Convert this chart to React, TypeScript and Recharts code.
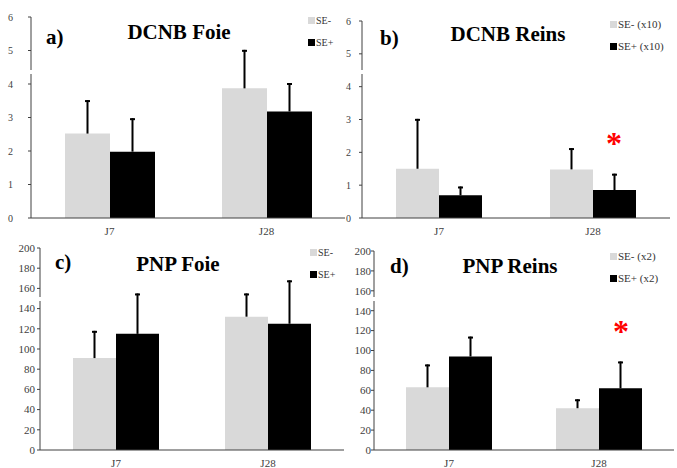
import React from "react"
import { BarChart, Bar, XAxis, YAxis } from "recharts"

const categories = ["J7", "J28"]

// a) DCNB Foie
const dcnbFoieMinus = [2.52, 3.87]
const dcnbFoieMinusErr = [1.0, 1.15]
const dcnbFoiePlus = [1.98, 3.18]
const dcnbFoiePlusErr = [1.0, 0.85]

// b) DCNB Reins (x10)
const dcnbReinsMinus = [1.5, 1.48]
const dcnbReinsMinusErr = [1.52, 0.65]
const dcnbReinsPlus = [0.69, 0.85]
const dcnbReinsPlusErr = [0.27, 0.5]

// c) PNP Foie
const pnpFoieMinus = [91, 132]
const pnpFoieMinusErr = [27, 23]
const pnpFoiePlus = [115, 125]
const pnpFoiePlusErr = [40, 43]

// d) PNP Reins (x2)
const pnpReinsMinus = [63, 42]
const pnpReinsMinusErr = [23, 9]
const pnpReinsPlus = [94, 62]
const pnpReinsPlusErr = [20, 27]

const dcnbTicks = [0, 1, 2, 3, 4, 5, 6]
const pnpTicks = [0, 20, 40, 60, 80, 100, 120, 140, 160, 180, 200]

const FONT = "Liberation Serif, Times New Roman, serif"
const GREY = "#d9d9d9"

function buildRows(minus: number[], minusErr: number[], plus: number[], plusErr: number[]) {
  return categories.map((cat, i) => ({
    cat,
    minus: minus[i],
    plus: plus[i],
    // upward-only error range, drawn as a thin line with a top cap
    minusRange: [minus[i], minus[i] + minusErr[i]],
    plusRange: [plus[i], plus[i] + plusErr[i]],
  }))
}

// error whisker: vertical line from bar top up to the error value, cap only on top
const Whisker = (props: any) => {
  const { x, y, width, height } = props
  if (x == null || y == null) return null
  const cx = x + width / 2
  return (
    <g>
      <line x1={cx} x2={cx} y1={y} y2={y + height} stroke="#000" strokeWidth={2} />
      <line x1={cx - 2.5} x2={cx + 2.5} y1={y + 1} y2={y + 1} stroke="#000" strokeWidth={2} />
    </g>
  )
}

const makeYTick = (size: number) => (props: any) => {
  const { x, y, payload } = props
  return (
    <text x={x} y={y} dy="0.35em" textAnchor="end" fill="#404040" style={{ fontFamily: FONT, fontSize: size }}>
      {payload.value}
    </text>
  )
}

const XTick = (props: any) => {
  const { x, y, payload } = props
  return (
    <text x={x} y={y} dy="0.85em" textAnchor="middle" fill="#404040" style={{ fontFamily: FONT, fontSize: 11 }}>
      {payload.value}
    </text>
  )
}

type PanelProps = {
  left: number
  top: number
  width: number
  height: number
  margin: { top: number; right: number; bottom: number; left: number }
  xHeight: number
  yWidth: number
  tickMargin: number
  tickFont: number
  ticks: number[]
  barSize: number
  rows: any[]
  names: [string, string]
  legendPos: { left: number; top: number }
  legendFont: number
  title: string
  titlePos: { x: number; y: number }
  letter: string
  letterPos: { x: number; y: number }
  star?: { x: number; y: number }
  breakPos: { x: number; y: number }
}

function Panel(p: PanelProps) {
  const domain = [p.ticks[0], p.ticks[p.ticks.length - 1]]
  return (
    <div style={{ position: "absolute", left: p.left, top: p.top, width: p.width, height: p.height, fontFamily: FONT }}>
      <BarChart width={p.width} height={p.height} data={p.rows} margin={p.margin} barGap={0} barSize={p.barSize}>
        <XAxis dataKey="cat" tickLine={false} axisLine={{ stroke: "#404040" }} height={p.xHeight} tick={XTick} />
        <XAxis dataKey="cat" xAxisId="err" hide />
        <YAxis
          width={p.yWidth}
          domain={domain}
          ticks={p.ticks}
          interval={0}
          tickSize={3}
          tickMargin={p.tickMargin}
          axisLine={{ stroke: "#404040" }}
          tickLine={{ stroke: "#404040" }}
          tick={makeYTick(p.tickFont)}
        />
        <Bar dataKey="minus" name={p.names[0]} fill={GREY} isAnimationActive={false} />
        <Bar dataKey="plus" name={p.names[1]} fill="#000" isAnimationActive={false} />
        <Bar dataKey="minusRange" xAxisId="err" shape={Whisker} isAnimationActive={false} />
        <Bar dataKey="plusRange" xAxisId="err" shape={Whisker} isAnimationActive={false} />
      </BarChart>
      <div
        style={{
          position: "absolute",
          left: p.breakPos.x - p.left - 3,
          top: p.breakPos.y - p.top - 2,
          width: 6,
          height: 4,
          background: "#fff",
        }}
      />
      <div
        style={{
          position: "absolute",
          left: p.legendPos.left - p.left,
          top: p.legendPos.top - p.top,
          fontSize: p.legendFont,
          color: "#333",
        }}
      >
        {[
          { name: p.names[0], color: GREY },
          { name: p.names[1], color: "#000" },
        ].map((it) => (
          <div key={it.name} style={{ display: "flex", alignItems: "center", height: 22, whiteSpace: "nowrap" }}>
            <span style={{ width: 7, height: 7, background: it.color, display: "inline-block", marginRight: 1 }} />
            <span>{it.name}</span>
          </div>
        ))}
      </div>
      <div
        style={{
          position: "absolute",
          left: p.titlePos.x - p.left,
          top: p.titlePos.y - p.top,
          transform: "translateX(-50%)",
          fontWeight: "bold",
          fontSize: 21,
          lineHeight: "21px",
          whiteSpace: "nowrap",
        }}
      >
        {p.title}
      </div>
      <div
        style={{
          position: "absolute",
          left: p.letterPos.x - p.left,
          top: p.letterPos.y - p.top,
          fontWeight: "bold",
          fontSize: 21,
          lineHeight: "21px",
        }}
      >
        {p.letter}
      </div>
      {p.star && (
        <div
          style={{
            position: "absolute",
            left: p.star.x - p.left,
            top: p.star.y - p.top,
            transform: "translateX(-50%)",
            fontWeight: "bold",
            fontSize: 32,
            lineHeight: "32px",
            color: "#ff0000",
          }}
        >
          *
        </div>
      )}
    </div>
  )
}

export default function App() {
  return (
    <div style={{ position: "absolute", left: 0, top: 0, width: 677, height: 468, background: "#fff", overflow: "hidden" }}>
      <Panel
        left={0}
        top={0}
        width={346}
        height={238}
        margin={{ top: 17, right: 1, bottom: 0, left: 0 }}
        xHeight={20}
        yWidth={31}
        tickMargin={15}
        tickFont={10}
        ticks={dcnbTicks}
        barSize={45}
        rows={buildRows(dcnbFoieMinus, dcnbFoieMinusErr, dcnbFoiePlus, dcnbFoiePlusErr)}
        names={["SE-", "SE+"]}
        legendPos={{ left: 308, top: 9 }}
        legendFont={10}
        title="DCNB Foie"
        titlePos={{ x: 179, y: 22 }}
        letter="a)"
        letterPos={{ x: 46, y: 27 }}
        breakPos={{ x: 31, y: 72 }}
      />
      <Panel
        left={338}
        top={0}
        width={338}
        height={238}
        margin={{ top: 21, right: 6, bottom: 0, left: 0 }}
        xHeight={20}
        yWidth={24}
        tickMargin={8}
        tickFont={10}
        ticks={dcnbTicks}
        barSize={43}
        rows={buildRows(dcnbReinsMinus, dcnbReinsMinusErr, dcnbReinsPlus, dcnbReinsPlusErr)}
        names={["SE- (x10)", "SE+ (x10)"]}
        legendPos={{ left: 610, top: 13 }}
        legendFont={11}
        title="DCNB Reins"
        titlePos={{ x: 508, y: 24 }}
        letter="b)"
        letterPos={{ x: 380, y: 28 }}
        star={{ x: 614, y: 127 }}
        breakPos={{ x: 362, y: 72 }}
      />
      <Panel
        left={0}
        top={238}
        width={345}
        height={230}
        margin={{ top: 10, right: 1, bottom: 0, left: 0 }}
        xHeight={18}
        yWidth={40}
        tickMargin={2}
        tickFont={11}
        ticks={pnpTicks}
        barSize={43}
        rows={buildRows(pnpFoieMinus, pnpFoieMinusErr, pnpFoiePlus, pnpFoiePlusErr)}
        names={["SE-", "SE+"]}
        legendPos={{ left: 310, top: 241 }}
        legendFont={10}
        title="PNP Foie"
        titlePos={{ x: 178, y: 254 }}
        letter="c)"
        letterPos={{ x: 55, y: 252 }}
        breakPos={{ x: 40, y: 299 }}
      />
      <Panel
        left={338}
        top={238}
        width={338}
        height={230}
        margin={{ top: 13, right: 2, bottom: 0, left: 0 }}
        xHeight={18}
        yWidth={36}
        tickMargin={0}
        tickFont={11}
        ticks={pnpTicks}
        barSize={43}
        rows={buildRows(pnpReinsMinus, pnpReinsMinusErr, pnpReinsPlus, pnpReinsPlusErr)}
        names={["SE- (x2)", "SE+ (x2)"]}
        legendPos={{ left: 610, top: 245 }}
        legendFont={11}
        title="PNP Reins"
        titlePos={{ x: 510, y: 256 }}
        letter="d)"
        letterPos={{ x: 390, y: 256 }}
        star={{ x: 621, y: 315 }}
        breakPos={{ x: 374, y: 299 }}
      />
    </div>
  )
}
